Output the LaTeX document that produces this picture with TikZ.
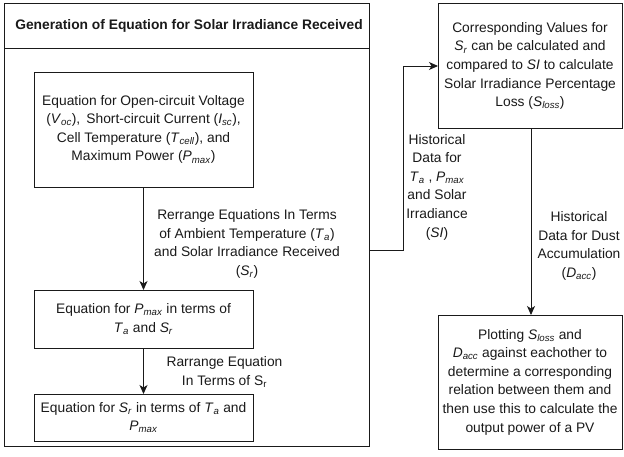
\documentclass[tikz,border=0pt]{standalone}
\usepackage{fontspec}
\setmainfont{Liberation Sans}
\usetikzlibrary{arrows.meta}
\newcommand{\qty}[2]{\textit{#1}\textsubscript{\textit{#2}}}
\definecolor{ink}{HTML}{1A1A1A}
\tikzset{
  every node/.style={font=\fontsize{13.8}{18.6}\selectfont, text=ink},
  procbox/.style={draw=ink, line width=0.9pt},
  txt/.style={align=center, inner sep=0pt},
  flow/.style={draw=ink, line width=0.9pt, -{Stealth[length=9pt,width=8pt,inset=2.5pt]}},
}
\begin{document}
\begin{tikzpicture}[x=1pt,y=-1pt]
\useasboundingbox (0,0) rectangle (624,456);
\fill[white] (0,0) rectangle (624,456);

% container with header
\draw[procbox] (4,3) rectangle (369,446);
\draw[procbox] (4,48) -- (369,48);
\node[txt, font=\fontsize{13.8}{18.6}\selectfont\bfseries] (title) at (189,25.5) {Generation of Equation for Solar Irradiance Received};

% left column
\draw[procbox] (34,72) rectangle (253,187);
\node[txt] (eqall) at (143.5,129.5) {Equation for Open-circuit Voltage\\(\qty{V}{oc}),\, Short-circuit Current (\qty{I}{sc}),\\Cell Temperature (\qty{T}{cell}), and\\Maximum Power (\qty{P}{max})};
\coordinate (eqallS) at (143.5,187);

\draw[procbox] (34,290) rectangle (253,348);
\node[txt] (eqp) at (143.5,319) {Equation for \qty{P}{max} in terms of\\\qty{T}{a} and \qty{S}{r}};
\coordinate (eqpN) at (143.5,290);
\coordinate (eqpS) at (143.5,348);

\draw[procbox] (34,394) rectangle (253,441);
\node[txt] (eqs) at (143.5,417.5) {Equation for \qty{S}{r} in terms of \qty{T}{a} and\\\qty{P}{max}};
\coordinate (eqsN) at (143.5,394);

\draw[flow] (eqallS) -- (eqpN);
\draw[flow] (eqpS) -- (eqsN);
\node[txt] (lbl1) at (247,244) {Rerrange Equations In Terms\\of Ambient Temperature (\qty{T}{a})\\and Solar Irradiance Received\\(\qty{S}{r})};
\node[txt] (lbl2) at (224.5,372) {Rarrange Equation\\In Terms of S\textsubscript{r}};

% right column
\draw[procbox] (438,3) rectangle (622,128);
\node[txt] (loss) at (530,66) {Corresponding Values for\\\qty{S}{r} can be calculated and\\compared to \textit{SI} to calculate\\Solar Irradiance Percentage\\Loss (\qty{S}{loss})};
\coordinate (lossW) at (438,66);
\coordinate (lossS) at (531,128);

\draw[procbox] (438,315) rectangle (622,449);
\node[txt] (plot) at (530,382) {Plotting \qty{S}{loss} and\\\qty{D}{acc} against eachother to\\determine a corresponding\\relation between them and\\then use this to calculate the\\output power of a PV};
\coordinate (plotN) at (531,315);

\coordinate (contE) at (369,250);
\draw[flow] (contE) -- (403,250) -- (403,66) -- (lossW);
\draw[flow] (lossS) -- (plotN);
\node[txt] (lbl3) at (437,187) {Historical\\Data for\\\qty{T}{a} , \qty{P}{max}\\and Solar\\Irradiance\\(\textit{SI})};
\node[txt] (lbl4) at (579,246) {Historical\\Data for Dust\\Accumulation\\(\qty{D}{acc})};
\end{tikzpicture}
\end{document}
